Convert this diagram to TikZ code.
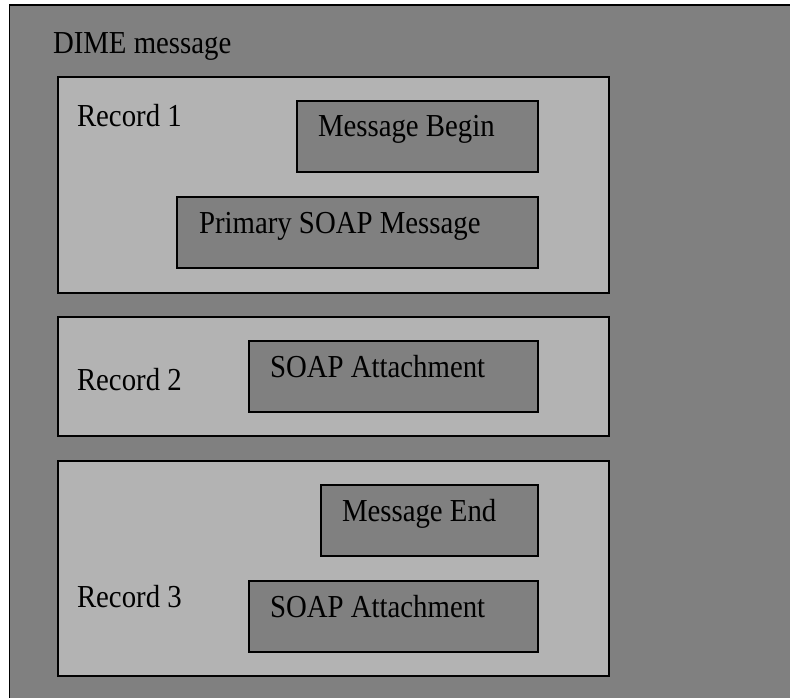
\documentclass[tikz,border=0pt]{standalone}
\usepackage{fontspec}
\setmainfont{Liberation Serif}[FakeStretch=0.9]
\definecolor{darkbox}{RGB}{128,128,128}
\definecolor{lightbox}{RGB}{179,179,179}
\tikzset{
  recbox/.style={draw=black, line width=1.6pt, fill=lightbox, anchor=north west, inner sep=0pt, outer sep=0pt},
  partbox/.style={draw=black, line width=1.6pt, fill=darkbox, anchor=north west, inner sep=0pt, outer sep=0pt},
  lbl/.style={anchor=base west, inner sep=0pt, outer sep=0pt, font=\fontsize{32}{37}\selectfont}
}
\begin{document}
\begin{tikzpicture}[x=1pt,y=-1pt]
\useasboundingbox (0,0) rectangle (790,698);
\begin{scope}
\clip (0,0) rectangle (790,698);
\node[partbox, minimum width=800pt, minimum height=710pt] (outer) at (9.5,5) {};
\end{scope}
\node[lbl] (title) at (53,54) {DIME message};
% Record 1
\node[recbox, minimum width=551pt, minimum height=216pt] (r1) at (58,77) {};
\node[lbl] (r1t) at (77,127) {Record 1};
\node[partbox, minimum width=241pt, minimum height=71pt] (mb) at (297,101) {};
\node[lbl] (mbt) at (318,137) {Message Begin};
\node[partbox, minimum width=361pt, minimum height=71pt] (ps) at (177,197) {};
\node[lbl] (pst) at (199,233) {Primary SOAP Message};
% Record 2
\node[recbox, minimum width=551pt, minimum height=119pt] (r2) at (58,317) {};
\node[lbl] (r2t) at (77,390) {Record 2};
\node[partbox, minimum width=289pt, minimum height=71pt] (sa2) at (249,341) {};
\node[lbl] (sa2t) at (270,377) {SOAP Attachment};
% Record 3
\node[recbox, minimum width=551pt, minimum height=215pt] (r3) at (58,461) {};
\node[lbl] (r3t) at (77,607) {Record 3};
\node[partbox, minimum width=217pt, minimum height=71pt] (me) at (321,485) {};
\node[lbl] (met) at (342,521) {Message End};
\node[partbox, minimum width=289pt, minimum height=71pt] (sa3) at (249,581) {};
\node[lbl] (sa3t) at (270,617) {SOAP Attachment};
\end{tikzpicture}
\end{document}
